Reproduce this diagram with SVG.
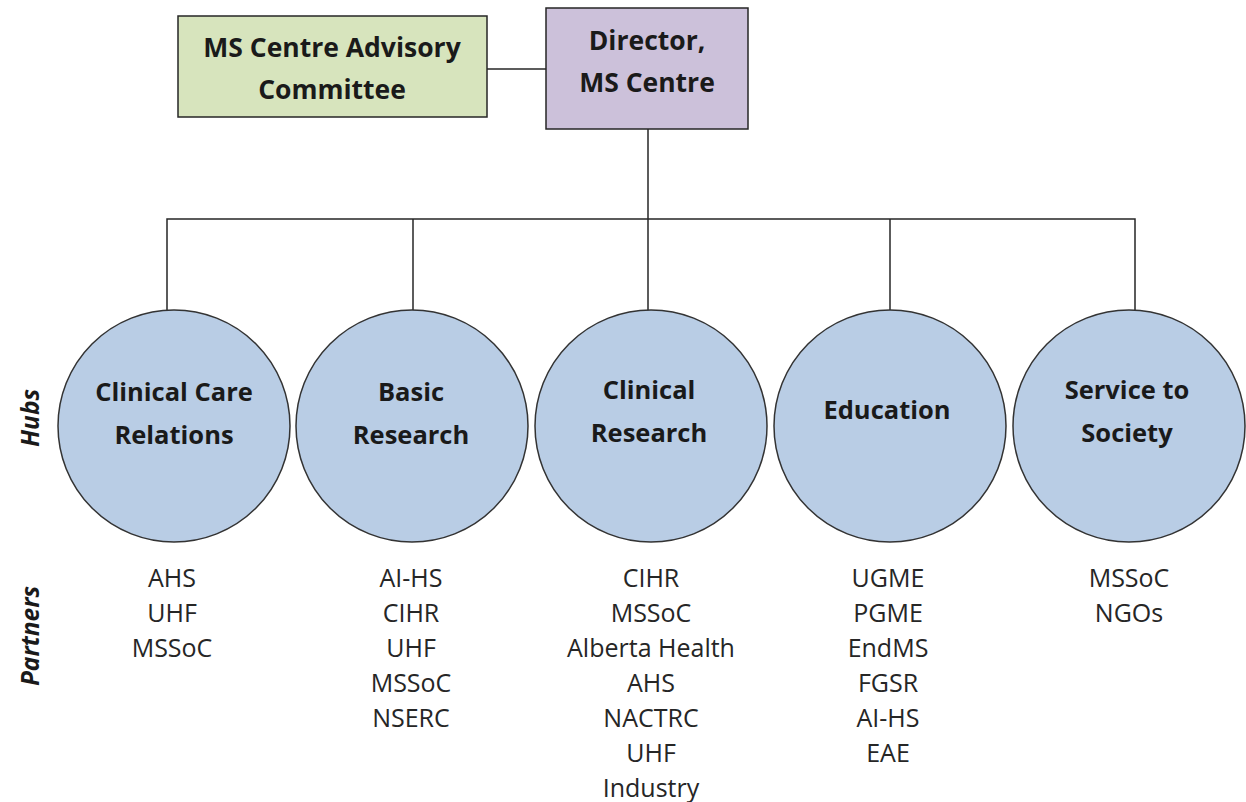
<svg xmlns="http://www.w3.org/2000/svg" width="1246" height="802" viewBox="0 0 1246 802">
<style>
.box{stroke:#262626;stroke-width:1.5}
.hub{fill:#b9cde5;stroke:#333;stroke-width:1.5}
.lbl{font-family:"Open Sans","Liberation Sans",sans-serif;font-weight:bold;font-size:25.5px;fill:#1a1a1a;text-anchor:middle}
.blbl{font-size:26.5px}
.ptn{font-family:"Open Sans","Liberation Sans",sans-serif;font-size:25px;fill:#262626;text-anchor:middle}
.side{font-family:"Open Sans","Liberation Sans",sans-serif;font-weight:bold;font-style:italic;font-size:24.5px;fill:#1a1a1a;text-anchor:middle}
.con{stroke:#262626;stroke-width:1.5;fill:none}
</style>
<rect width="1246" height="802" fill="#fff"/>
<g id="connectors">
<line class="con" x1="487" y1="69" x2="546" y2="69"/>
<line class="con" x1="648" y1="129" x2="648" y2="312"/>
<polyline class="con" points="167,312 167,219 1135,219 1135,311"/>
<line class="con" x1="413" y1="219" x2="413" y2="312"/>
<line class="con" x1="890" y1="219" x2="890" y2="312"/>
</g>
<g id="advisory">
<rect class="box" x="178" y="16" width="309" height="101" fill="#d7e4bd"/>
<text class="lbl blbl" x="332" y="57">MS Centre Advisory</text>
<text class="lbl blbl" x="332" y="99">Committee</text>
</g>
<g id="director">
<rect class="box" x="546" y="8" width="202" height="121" fill="#ccc1da"/>
<text class="lbl blbl" x="647" y="50">Director,</text>
<text class="lbl blbl" x="647" y="92">MS Centre</text>
</g>
<g id="hub-clinical-care">
<circle class="hub" cx="174" cy="426" r="116"/>
<text class="lbl" x="174" y="401">Clinical Care</text>
<text class="lbl" x="174" y="444">Relations</text>
</g>
<g id="hub-basic-research">
<circle class="hub" cx="412" cy="426" r="116"/>
<text class="lbl" x="411" y="401">Basic</text>
<text class="lbl" x="411" y="444">Research</text>
</g>
<g id="hub-clinical-research">
<circle class="hub" cx="651" cy="426" r="116"/>
<text class="lbl" x="649" y="399">Clinical</text>
<text class="lbl" x="649" y="442">Research</text>
</g>
<g id="hub-education">
<circle class="hub" cx="890" cy="426" r="116"/>
<text class="lbl" x="887" y="419">Education</text>
</g>
<g id="hub-service">
<circle class="hub" cx="1129" cy="426" r="116"/>
<text class="lbl" x="1127" y="399">Service to</text>
<text class="lbl" x="1127" y="442">Society</text>
</g>
<g id="partners-clinical-care">
<text class="ptn" x="172" y="587">AHS</text>
<text class="ptn" x="172" y="622">UHF</text>
<text class="ptn" x="172" y="657">MSSoC</text>
</g>
<g id="partners-basic-research">
<text class="ptn" x="411" y="587">AI-HS</text>
<text class="ptn" x="411" y="622">CIHR</text>
<text class="ptn" x="411" y="657">UHF</text>
<text class="ptn" x="411" y="692">MSSoC</text>
<text class="ptn" x="411" y="727">NSERC</text>
</g>
<g id="partners-clinical-research">
<text class="ptn" x="651" y="587">CIHR</text>
<text class="ptn" x="651" y="622">MSSoC</text>
<text class="ptn" x="651" y="657">Alberta Health</text>
<text class="ptn" x="651" y="692">AHS</text>
<text class="ptn" x="651" y="727">NACTRC</text>
<text class="ptn" x="651" y="762">UHF</text>
<text class="ptn" x="651" y="797">Industry</text>
</g>
<g id="partners-education">
<text class="ptn" x="888" y="587">UGME</text>
<text class="ptn" x="888" y="622">PGME</text>
<text class="ptn" x="888" y="657">EndMS</text>
<text class="ptn" x="888" y="692">FGSR</text>
<text class="ptn" x="888" y="727">AI-HS</text>
<text class="ptn" x="888" y="762">EAE</text>
</g>
<g id="partners-service">
<text class="ptn" x="1129" y="587">MSSoC</text>
<text class="ptn" x="1129" y="622">NGOs</text>
</g>
<g id="side-labels">
<text class="side" transform="translate(39,418) rotate(-90)">Hubs</text>
<text class="side" transform="translate(39,636) rotate(-90)">Partners</text>
</g>
</svg>
